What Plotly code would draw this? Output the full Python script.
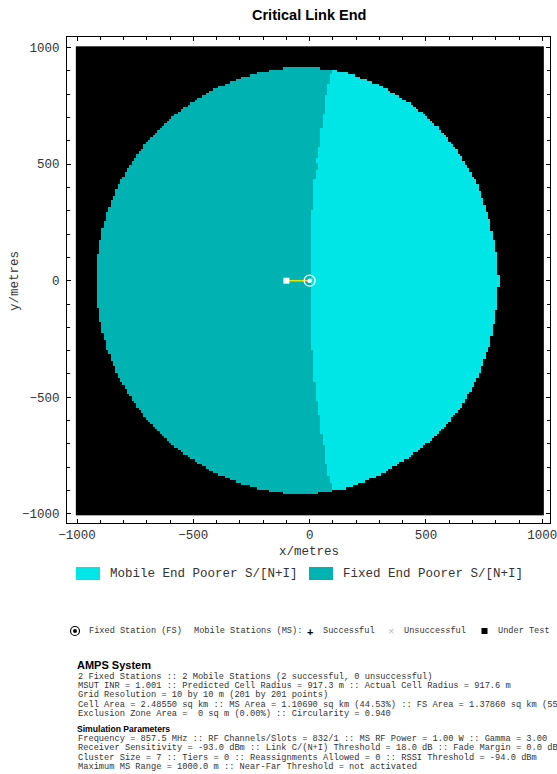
import numpy as np
import plotly.graph_objects as go

# ---------------- data ----------------
# simulation grid: 10 m resolution, 201 x 201 points
grid_x = np.arange(-1000, 1001, 10)
grid_y = np.arange(-1000, 1001, 10)

# served area: left half is the actual cell radius, right half is limited (polar samples)
cell_radius_m = 917.6
edge_angle_deg = [-90, -80, -70, -60, -50, -40, -30, -20, -10, 0, 10, 20, 30, 40, 50, 60, 70, 80, 90]
edge_radius_m = [915, 903, 885, 869, 857, 847, 832, 820, 811, 812, 811, 815, 830, 843, 860, 875, 890, 908, 916]

# dividing line between the two "poorer end" regions, as horizontal bands
split_band_edges_y = [1000, 885, 842, 795, 713, 656, 577, 520, 506, 470, 434, 300, 180,
                      -170, -300, -434, -518, -575, -654, -704, -790, -833, -869, -1000]
split_band_x = [90, 82, 73, 60, 52, 43, 30, 21, 30, 21, 13, 5, 0,
                5, 13, 21, 30, 43, 52, 60, 73, 82, 90]

# stations
fixed_station_x = [0]
fixed_station_y = [0]
mobile_test_x = [-100]
mobile_test_y = [0]

x_tick_values = [-1000, -500, 0, 500, 1000]
y_tick_values = [-1000, -500, 0, 500, 1000]

region_names = ["Mobile End Poorer S/[N+I]", "Fixed End Poorer S/[N+I]"]
LIGHT = "#00e5e5"
DARK = "#00b3b3"

info_title = "AMPS System"
info_lines = [
    "2 Fixed Stations :: 2 Mobile Stations (2 successful, 0 unsuccessful)",
    "MSUT INR = 1.001 :: Predicted Cell Radius = 917.3 m :: Actual Cell Radius = 917.6 m",
    "Grid Resolution = 10 by 10 m (201 by 201 points)",
    "Cell Area = 2.48550 sq km :: MS Area = 1.10690 sq km (44.53%) :: FS Area = 1.37860 sq km (55.47%)",
    "Exclusion Zone Area =  0 sq m (0.00%) :: Circularity = 0.940",
]
param_title = "Simulation Parameters"
param_lines = [
    "Frequency = 857.5 MHz :: RF Channels/Slots = 832/1 :: MS RF Power = 1.00 W :: Gamma = 3.00",
    "Receiver Sensitivity = -93.0 dBm :: Link C/(N+I) Threshold = 18.0 dB :: Fade Margin = 0.0 dB",
    "Cluster Size = 7 :: Tiers = 0 :: Reassignments Allowed = 0 :: RSSI Threshold = -94.0 dBm",
    "Maximum MS Range = 1000.0 m :: Near-Far Threshold = not activated",
]

# ---------------- raster of the cell ----------------
def point_in_polygon(px, py, vx, vy):
    res = np.zeros(px.shape, dtype=bool)
    n = len(vx)
    j = n - 1
    for i in range(n):
        xi, yi, xj, yj = vx[i], vy[i], vx[j], vy[j]
        crosses = (yi > py) != (yj > py)
        xint = (xj - xi) * (py - yi) / ((yj - yi) if yj != yi else 1e-12) + xi
        res ^= crosses & (px < xint)
        j = i
    return res

ang = np.radians(edge_angle_deg)
poly_x = list(np.array(edge_radius_m) * np.cos(ang))
poly_y = list(np.array(edge_radius_m) * np.sin(ang))
left_ang = np.radians(np.arange(92, 270, 2))
poly_x += list(cell_radius_m * np.cos(left_ang))
poly_y += list(cell_radius_m * np.sin(left_ang))

GX, GY = np.meshgrid(grid_x, grid_y)
inside = point_in_polygon(GX.astype(float), GY.astype(float), np.array(poly_x), np.array(poly_y))

split_x_row = np.zeros(len(grid_y))
for k, yv in enumerate(grid_y):
    for i in range(len(split_band_x)):
        if split_band_edges_y[i] >= yv > split_band_edges_y[i + 1] or (i == len(split_band_x) - 1):
            split_x_row[k] = split_band_x[i]
            break
light = GX > split_x_row[:, None]

z = np.where(inside, np.where(light, 2, 1), 0)

# ---------------- figure ----------------
W, H = 557, 774
ML, MR, MT, MB = 67, 7, 37, 251
PW, PH = W - ML - MR, H - MT - MB

def px(x):
    return (x - ML) / PW

def py(y):
    return (H - MB - y) / PH

MONO = "Courier New, Liberation Mono, monospace"
SANS = "Liberation Sans, Arial, sans-serif"
TXT = "#333"

fig = go.Figure()
fig.add_trace(go.Heatmap(
    x=grid_x, y=grid_y, z=z, zmin=0, zmax=2, showscale=False, hoverinfo="skip",
    colorscale=[[0, "black"], [0.333, "black"], [0.333, DARK], [0.667, DARK],
                [0.667, LIGHT], [1, LIGHT]],
))
fig.add_trace(go.Scatter(
    x=[mobile_test_x[0], fixed_station_x[0]], y=[mobile_test_y[0], fixed_station_y[0]],
    mode="lines", line=dict(color="#e6e600", width=1.6), hoverinfo="skip", showlegend=False))
fig.add_trace(go.Scatter(
    x=mobile_test_x, y=mobile_test_y, mode="markers",
    marker=dict(symbol="square", size=6, color="white"), showlegend=False))
fig.add_trace(go.Scatter(
    x=fixed_station_x, y=fixed_station_y, mode="markers",
    marker=dict(symbol="circle-open", size=11, color="white", line=dict(width=1.3, color="white")),
    showlegend=False))
fig.add_trace(go.Scatter(
    x=fixed_station_x, y=fixed_station_y, mode="markers",
    marker=dict(symbol="circle", size=4.5, color="white"), showlegend=False))

axis_common = dict(
    showgrid=False, zeroline=False, showline=True, linecolor="black", linewidth=1,
    mirror="ticks", ticks="inside", ticklen=4, tickcolor="black", tickwidth=1,
    minor=dict(dtick=100, ticks="inside", ticklen=3, tickcolor="black", showgrid=False),
    tickfont=dict(family=MONO, size=12.5, color=TXT), ticklabeloverflow="allow",
    automargin=False,
)
fig.update_xaxes(range=[-1043, 1033], tickvals=x_tick_values, **axis_common)
fig.update_yaxes(range=[-1039, 1045], tickvals=y_tick_values, ticklabelstandoff=4, **axis_common)


def label(text, x, y, size, family, color=TXT, xanchor="left", angle=0):
    return dict(text=text, x=px(x), y=py(y), xref="paper", yref="paper", xanchor=xanchor,
                yanchor="middle", showarrow=False, textangle=angle,
                font=dict(family=family, size=size, color=color))


ann = []
ann.append(label("<b>Critical Link End</b>", 309, 15, 14.5, SANS, "black", "center"))
ann.append(label("x/metres", 309, 552, 12.5, MONO, TXT, "center"))
ann.append(label("y/metres", 15, 281, 12.5, MONO, TXT, "center", -90))

shapes = []
# region legend
for (x0, name, col) in [(76, region_names[0], LIGHT), (309, region_names[1], DARK)]:
    shapes.append(dict(type="rect", xref="paper", yref="paper", x0=px(x0), x1=px(x0 + 24),
                       y0=py(580), y1=py(567), fillcolor=col, line=dict(width=0)))
    ann.append(label(name, x0 + 32, 573.5, 12.5, MONO))

# station key
ky = 631
shapes.append(dict(type="circle", xref="paper", yref="paper", xsizemode="pixel", ysizemode="pixel",
                   xanchor=px(75), yanchor=py(ky), x0=-4.5, x1=4.5, y0=-4.5, y1=4.5,
                   line=dict(color="black", width=1.2)))
shapes.append(dict(type="circle", xref="paper", yref="paper", xsizemode="pixel", ysizemode="pixel",
                   xanchor=px(75), yanchor=py(ky), x0=-2, x1=2, y0=-2, y1=2,
                   fillcolor="black", line=dict(width=0)))
shapes.append(dict(type="rect", xref="paper", yref="paper", xsizemode="pixel", ysizemode="pixel",
                   xanchor=px(484.5), yanchor=py(ky), x0=-3, x1=3, y0=-3, y1=3,
                   fillcolor="black", line=dict(width=0)))
for x0, t in [(87, "Fixed Station (FS)"), (192, "Mobile Stations (MS):"), (320.5, "Successful"),
              (401.5, "Unsuccessful"), (495.5, "Under Test")]:
    ann.append(label(t, x0, ky, 8.6, MONO))
ann.append(label("<b>+</b>", 309.5, ky + 0.5, 11, SANS, "black", "center"))
ann.append(label("×", 390.5, ky, 11, SANS, "#bbb", "center"))

# simulation summary text
ann.append(label("<b>%s</b>" % info_title, 75, 665, 11, SANS, "black"))
for i, t in enumerate(info_lines):
    ann.append(label(t, 75.5, 677 + i * 9.2, 8.7, MONO))
ann.append(label("<b>%s</b>" % param_title, 75, 729, 8.6, SANS, "black"))
for i, t in enumerate(param_lines):
    ann.append(label(t, 75.5, 739 + i * 9.3, 8.7, MONO))

fig.update_layout(
    width=W, height=H, margin=dict(l=ML, r=MR, t=MT, b=MB),
    paper_bgcolor="white", plot_bgcolor="white", showlegend=False,
    annotations=ann, shapes=shapes,
)

fig.write_html("out.html")
